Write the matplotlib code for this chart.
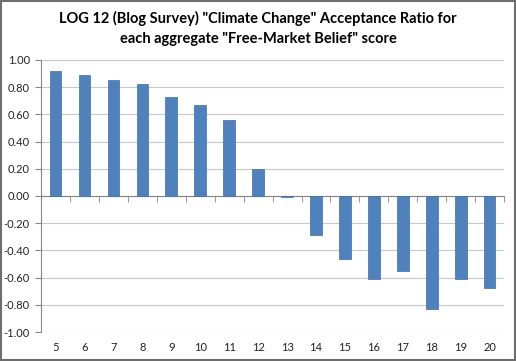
import numpy as np
import matplotlib.pyplot as plt
from matplotlib.ticker import MultipleLocator, FixedLocator

# Datos
scores = [5, 6, 7, 8, 9, 10, 11, 12, 13, 14, 15, 16, 17, 18, 19, 20]
ratio = [0.92, 0.89, 0.85, 0.82, 0.73, 0.67, 0.56, 0.20,
         -0.01, -0.29, -0.46, -0.61, -0.55, -0.83, -0.61, -0.68]
title = 'LOG 12 (Blog Survey) "Climate Change" Acceptance Ratio for\neach aggregate "Free-Market Belief" score'

plt.rcParams['font.family'] = ['Lato', 'DejaVu Sans']

fig = plt.figure(figsize=(5.16, 3.61), dpi=100)
ax = fig.add_axes([0.0795, 0.0803, 0.8975, 0.7537])

x = np.arange(len(scores))
ax.bar(x, ratio, width=0.4, color='#4F81BD', edgecolor='#3F6FA8', linewidth=0.5, zorder=3)

ax.set_xlim(-0.5, len(scores) - 0.5)
ax.set_ylim(-1, 1)
ax.yaxis.set_major_locator(MultipleLocator(0.2))
ax.yaxis.set_major_formatter(lambda v, p: f'{v:.2f}')
ax.grid(axis='y', color='#C8C8C8', linewidth=0.8, zorder=0)
ax.tick_params(axis='y', length=4, color='#868686', labelsize=8, pad=4, labelcolor='#222222')

# eje horizontal en cero con marcas entre categorias
for s in ['top', 'right']:
    ax.spines[s].set_visible(False)
ax.spines['bottom'].set_position(('data', 0))
ax.spines['bottom'].set_color('#868686')
ax.spines['left'].set_color('#868686')
ax.set_xticks([])
ax.xaxis.set_minor_locator(FixedLocator(np.arange(len(scores) + 1) - 0.5))
ax.tick_params(axis='x', which='minor', length=4, color='#868686', direction='out')

# etiquetas de categoria abajo
sec = ax.secondary_xaxis('bottom')
sec.set_xticks(x, [str(s) for s in scores])
sec.tick_params(length=0, labelsize=8, pad=7, labelcolor='#222222')
sec.spines['bottom'].set_visible(False)

fig.text(0.5, 0.921, title, ha='center', va='center', fontsize=10.5, fontweight='bold',
         linespacing=1.5)

# marco exterior
fig.patches.append(plt.Rectangle((0.002, 0.003), 0.996, 0.994, transform=fig.transFigure,
                                 fill=False, edgecolor='#6E6E6E', linewidth=1.5))

fig.savefig('out.png', dpi=100)
